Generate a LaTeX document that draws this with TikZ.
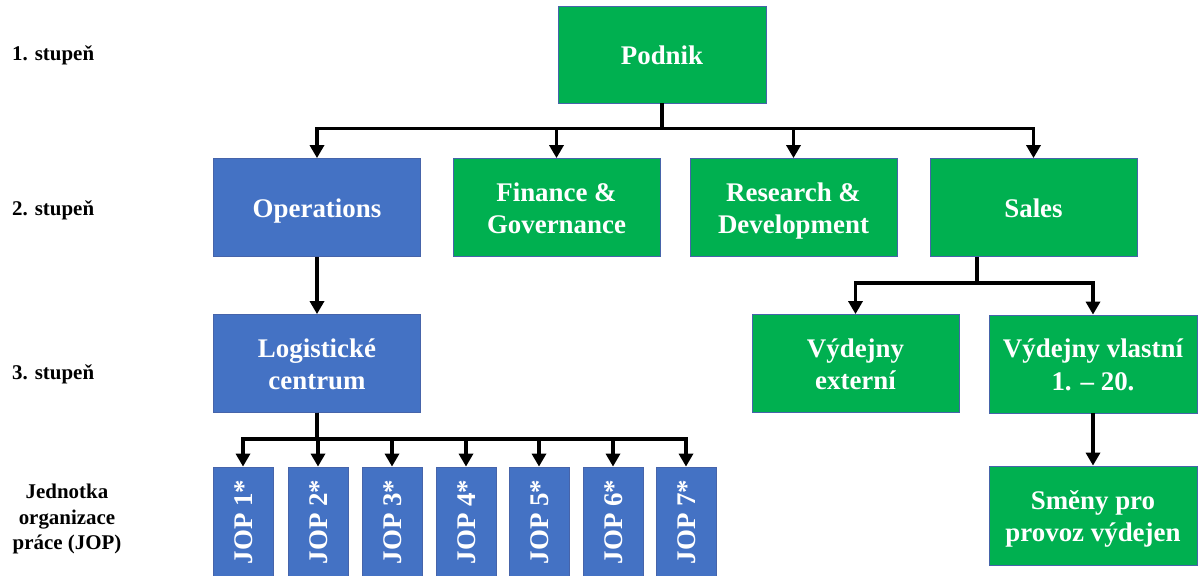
\documentclass[tikz,border=0pt]{standalone}
\usepackage{fontspec}
\setmainfont{Liberation Serif}
\usetikzlibrary{arrows.meta}
\definecolor{boxgreen}{RGB}{0,176,80}
\definecolor{boxblue}{RGB}{68,114,196}
\definecolor{boxedge}{RGB}{70,100,170}
% fixed top and bottom of a text block so every label sits alike in its box
\newcommand{\topstrut}{\rule{0pt}{26pt}}
\newcommand{\botstrut}{\rule[-6pt]{0pt}{6pt}}
\newcommand{\one}[1]{\topstrut#1\botstrut}
\newcommand{\two}[2]{\topstrut#1\\#2\botstrut}
\begin{document}
\begin{tikzpicture}[x=1bp,y=-1bp,
  unit/.style={rectangle,draw=boxedge,line width=0.8bp,text=white,
    font=\fontsize{27}{33}\selectfont\bfseries,align=center,inner sep=0pt},
  green/.style={unit,fill=boxgreen},
  blue/.style={unit,fill=boxblue},
  wide/.style={minimum width=207bp,minimum height=98bp},
  jop/.style={blue,minimum width=110bp,minimum height=60bp,rotate=90},
  level/.style={font=\fontsize{21}{25.5}\selectfont\bfseries,align=center,inner sep=0pt},
  link/.style={line width=3.5bp,-{Triangle[width=14bp,length=13bp]}}]
\useasboundingbox (0,0) rectangle (1201,576);

% level labels
\node[level,anchor=west] (l1) at (12,55) {1. stupeň};
\node[level,anchor=west] (l2) at (12,210) {2. stupeň};
\node[level,anchor=west] (l3) at (12,374) {3. stupeň};
\node[level] (l4) at (67,519) {Jednotka\\organizace\\práce (JOP)};

% level 1
\node[green,wide,minimum width=208bp,minimum height=97bp] (pod) at (662,54.5) {\one{Podnik}};

% level 2
\node[blue,wide] (ops) at (317,207.5) {\one{Operations}};
\node[green,wide] (fin) at (556.5,207.5) {\two{Finance \&}{Governance}};
\node[green,wide] (rnd) at (793.5,207.5) {\two{Research \&}{Development}};
\node[green,wide] (sal) at (1033.5,207.5) {\one{Sales}};

% level 3
\node[blue,wide] (log) at (317,363.5) {\two{Logistické}{centrum}};
\node[green,wide] (ext) at (855.5,363.5) {\two{Výdejny}{externí}};
\node[green,wide,minimum width=208bp] (own) at (1093,364) {\two{Výdejny vlastní}{1. – 20.}};
\node[green,wide,minimum width=208bp,minimum height=99bp] (shift) at (1093,515.5) {\two{Směny pro}{provoz výdejen}};

% work units
\foreach \i/\x in {1/243,2/318,3/392,4/466,5/539,6/613,7/686}
  \node[jop] (j\i) at (\x,522) {\one{JOP \i*}};

% connectors
\foreach \c in {ops,fin,rnd,sal}
  \draw[link] (pod.south) -- ++(0,25) -| (\c.north);
\draw[link] (ops.south) -- (log.north);
\foreach \i in {1,...,7}
  \draw[link] (log.south) -- ++(0,26) -| (j\i.east);
\coordinate (salfoot) at (977,257);
\draw[link] (salfoot) -- ++(0,26) -| (ext.north);
\draw[link] (salfoot) -- ++(0,26) -| (own.north);
\draw[link] (own.south) -- (shift.north);
\end{tikzpicture}
\end{document}
